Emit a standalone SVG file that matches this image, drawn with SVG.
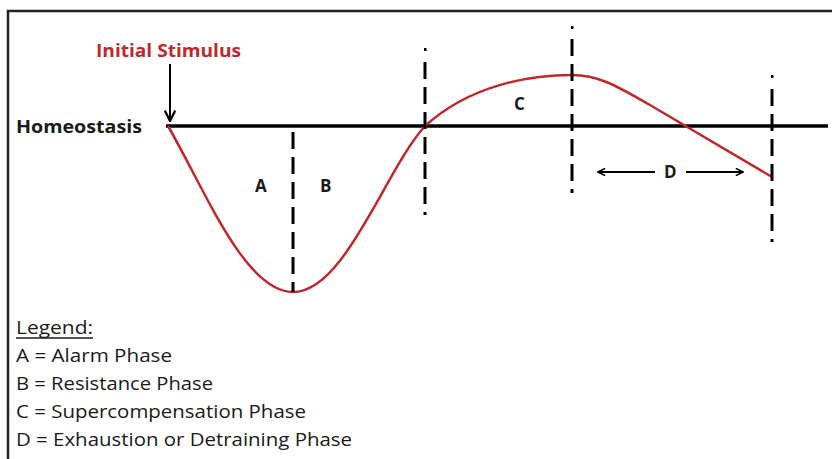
<svg xmlns="http://www.w3.org/2000/svg" width="832" height="459" viewBox="0 0 832 459">
<defs>
<style>
.t{font-family:"Open Sans","Liberation Sans",sans-serif;fill:#1a1a1a}
.b{font-weight:bold}
.dash{stroke:#000;stroke-width:3;stroke-dasharray:17 8;fill:none}
.ax{stroke:#000;stroke-width:3.5;fill:none}
.cur{stroke:#c0282d;stroke-width:2.5;fill:none}
.arr{stroke:#000;stroke-width:2;fill:none}
</style>
<marker id="ah" viewBox="0 0 10 10" refX="9" refY="5" markerWidth="9" markerHeight="9" markerUnits="userSpaceOnUse" orient="auto"><path d="M1,1 L9,5 L1,9" fill="none" stroke="#000" stroke-width="1.8"/></marker>
<marker id="ah2" viewBox="0 0 10 10" refX="9" refY="5" markerWidth="13" markerHeight="13" markerUnits="userSpaceOnUse" orient="auto"><path d="M1,1 L9,5 L1,9" fill="none" stroke="#000" stroke-width="1.8"/></marker>
</defs>
<rect width="832" height="459" fill="#fff"/>
<g id="frame"><path d="M8,459 V11 H832" fill="none" stroke="#222" stroke-width="2.5"/></g>
<g id="connectors">
<line class="ax" x1="166" y1="126" x2="828" y2="126"/>
<path class="cur" d="M168,126 C205,190 245,292 293,292 C345,292 385,170 425,126 C470,85 530,75 572,75 C600,75 620,88 650,105 L772,177"/>
<line class="dash" x1="293" y1="132" x2="293" y2="292"/>
<line class="dash" x1="425" y1="62" x2="425" y2="215"/>
<rect x="424" y="48" width="2.5" height="3" fill="#000"/>
<line class="dash" x1="572" y1="39" x2="572" y2="193"/>
<rect x="571" y="26" width="2.5" height="3" fill="#000"/>
<line class="dash" x1="772" y1="89" x2="772" y2="242"/>
<rect x="771" y="75" width="2.5" height="3" fill="#000"/>
<line class="arr" x1="170" y1="64" x2="170" y2="121" marker-end="url(#ah2)"/>
<line class="arr" x1="655" y1="172" x2="598" y2="172" marker-end="url(#ah)"/>
<line class="arr" x1="686" y1="172" x2="743" y2="172" marker-end="url(#ah)"/>
</g>
<g id="labels">
<text class="t b" x="96" y="57" font-size="17" style="fill:#c0282d" textLength="145" lengthAdjust="spacingAndGlyphs">Initial Stimulus</text>
<text class="t b" x="16" y="133" font-size="17" textLength="126" lengthAdjust="spacingAndGlyphs">Homeostasis</text>
<text class="t b" x="255" y="192" font-size="17">A</text>
<text class="t b" x="320" y="192" font-size="17">B</text>
<text class="t b" x="514" y="110" font-size="17">C</text>
<text class="t b" x="664" y="178" font-size="17">D</text>
</g>
<g id="legend">
<text class="t" x="16" y="334" font-size="18" textLength="77" lengthAdjust="spacingAndGlyphs">Legend:</text>
<line x1="16" y1="338" x2="93" y2="338" stroke="#1a1a1a" stroke-width="1.4"/>
<text class="t" x="16" y="362" font-size="18" textLength="156" lengthAdjust="spacingAndGlyphs">A = Alarm Phase</text>
<text class="t" x="16" y="390" font-size="18" textLength="197" lengthAdjust="spacingAndGlyphs">B = Resistance Phase</text>
<text class="t" x="16" y="418" font-size="18" textLength="290" lengthAdjust="spacingAndGlyphs">C = Supercompensation Phase</text>
<text class="t" x="16" y="446" font-size="18" textLength="336" lengthAdjust="spacingAndGlyphs">D = Exhaustion or Detraining Phase</text>
</g>
</svg>
